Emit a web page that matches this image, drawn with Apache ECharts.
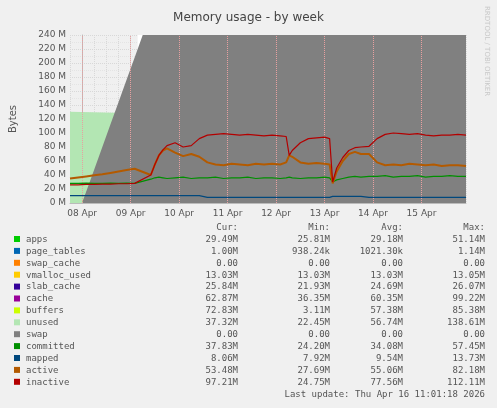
<!DOCTYPE html>
<html>
<head>
<meta charset="utf-8">
<script src="https://cdn.jsdelivr.net/npm/echarts@6/dist/echarts.min.js"></script>
<style>html,body{margin:0;padding:0;background:#f0f0f0;}#c{width:497px;height:408px;}</style>
</head>
<body>
<div id="c"></div>
<script>
// hours since 08 Apr 00:00
var times = [-6,-2,2,6,10,14,18,22,26,34,36,38,40,42,46,50,54,58,62,66,70,74,78,82,86,90,94,98,101,102.5,104,108,112,116,120,122.5,124,126,129,132,135,138,142,146,150,154,158,162,166,170,174,178,182,186,190];
var dayLabels = ['08 Apr','09 Apr','10 Apr','11 Apr','12 Apr','13 Apr','14 Apr','15 Apr'];
var gaps = [[27.5, 33.5], [114.8, 115.6]]; // no data

var apps = [26,26,26.5,26,26,26.5,26,26,26,29,29,28.5,29,29,29.5,29,28.5,29,29,29,28.5,29,29,29,28.5,29,29,29,29,29,29,29,28.5,29,29,29,29,29,29.5,30,30.5,30.5,31,31,31,30.5,31,31,31,30.5,31,31,31,30.5,30];
var pageTables = [1,1,1,1,1,1,1,1,1,1,1,1,1,1,1,1,1,1,1,1,1,1,1,1,1,1,1,1,1,1,1,1,1,1,1,1,1,1,1,1,1,1,1,1,1,1,1,1,1,1,1,1,1,1,1];
var swapCache = [0,0,0,0,0,0,0,0,0,0,0,0,0,0,0,0,0,0,0,0,0,0,0,0,0,0,0,0,0,0,0,0,0,0,0,0,0,0,0,0,0,0,0,0,0,0,0,0,0,0,0,0,0,0,0];
var vmalloc = [13,13,13,13,13,13,13,13,13,13,13,13,13,13,13,13,13,13,13,13,13,13,13,13,13,13,13,13,13,13,13,13,13,13,13,13,13,13,13,13,13,13,13,13,13,13,13,13,13,13,13,13,13,13,13];
var slab = [25,25,25,25,25,25,25,25,25,25,25,25,25,25,25,25,25,25,25,25,25,25,25,25,25,25,25,25,25,24,25,25,25,25,25,25,21,23,24,25,25,25,26,26,26,26,26,26,26,26,26,26,26,26,26];
var cache = [35,35.5,36,36.5,37,37.5,38,39,40,77,84,92,96,95,82,64,60,62,63,66,68,67,65,63,64,63,62,61,58,42,52,58,59,58,58,57,39,52,70,84,77,62,53,59,62,61,63,64,62,62,62,63,63,62,61];
var buffers = [9,10.5,12,13.5,15,16.5,18,19,20,3,13,25,34,40,54,72,76,74,73,70,68,69,71,73,72,73,74,75,74,70,80,77,76,77,77,78,0,5,22,48,60,75,81,75,72,73,71,70,72,72,72,71,71,72,73];
var unused = [133,131,129,127,125,123,121,119,117,94,77,57,44,39,38,38,38,38,38,38,38,38,38,38,38,38,38,38,42,62,42,39,39,39,39,39,139,117,82,42,37,37,37,37,37,37,37,37,37,37,37,37,37,37,37];
var swap = [0,0,0,0,0,0,0,0,0,0,0,0,0,0,0,0,0,0,0,0,0,0,0,0,0,0,0,0,0,0,0,0,0,0,0,0,0,0,0,0,0,0,0,0,0,0,0,0,0,0,0,0,0,0,0];
var committed = [28,28,28.5,28,28,28.5,28,28.5,28,34,36,37,36,35,36,37,35,36,36,37,35,36,36,37,35,36,36,35,36,37,36,35,36,36,37,36,30,33,35,37,38,37,38,38,39,37,38,38,39,37,38,38,39,38,38];
var mapped = [10.5,10.5,10.5,10.5,10.5,10.5,10.5,10.5,10.5,10.5,10.5,10.5,10.5,10.5,10.5,10.5,10.5,10.5,8,8,8,8,8,8,8,8,8,8,8,8,8,8,8,8,8,8,9.5,9.5,9.5,9.5,9.5,9.5,8,8,8,8,8,8,8,8,8,8,8,8,8];
var active = [35,36.5,38,39.5,41,43,45,47,49,40,55,68,75,78,72,67,70,66,58,55,54,56,55,54,56,55,56,55,58,68,66,58,56,57,56,55,28,45,60,70,73,70,70,58,54,55,54,56,55,54,55,53,54,54,53];
var inactive = [26,26,26.5,26.5,27,27,27.5,27.5,28,40,55,68,76,82,86,80,82,92,97,98,99,98,97,98,97,96,97,96,95,68,75,86,92,93,94,92,30,50,65,75,79,80,81,92,98,100,99,98,99,97,96,97,97,98,97];

var legendRows = [
  ['apps','#00cc00','29.49M','25.81M','29.18M','51.14M'],
  ['page_tables','#0066b3','1.00M','938.24k','1021.30k','1.14M'],
  ['swap_cache','#ff8000','0.00','0.00','0.00','0.00'],
  ['vmalloc_used','#ffcc00','13.03M','13.03M','13.03M','13.05M'],
  ['slab_cache','#330099','25.84M','21.93M','24.69M','26.07M'],
  ['cache','#990099','62.87M','36.35M','60.35M','99.22M'],
  ['buffers','#ccff00','72.83M','3.11M','57.38M','85.38M'],
  ['unused','#b3e6b3','37.32M','22.45M','56.74M','138.61M'],
  ['swap','#808080','0.00','0.00','0.00','0.00'],
  ['committed','#008f00','37.83M','24.20M','34.08M','57.45M'],
  ['mapped','#00487d','8.06M','7.92M','9.54M','13.73M'],
  ['active','#b35a00','53.48M','27.69M','55.06M','82.18M'],
  ['inactive','#b30000','97.21M','24.75M','77.56M','112.11M']
];

function pairs(arr) {
  return times.map(function (t, i) { return [t, arr[i]]; });
}

var stacked = [apps, pageTables, swapCache, vmalloc, slab, cache, buffers, unused, swap];
var lines = [committed, mapped, active, inactive];
var series = [];
stacked.forEach(function (arr, i) {
  series.push({
    name: legendRows[i][0], type: 'line', stack: 'mem', data: pairs(arr),
    symbol: 'none', lineStyle: { width: 0 },
    areaStyle: { color: legendRows[i][1], opacity: 1 }, z: 2
  });
});
lines.forEach(function (arr, i) {
  var row = legendRows[9 + i];
  series.push({
    name: row[0], type: 'line', data: pairs(arr), symbol: 'none',
    lineStyle: { color: row[1], width: i === 2 ? 2 : 1.2 }, z: 5
  });
});
// day boundary lines and no-data gaps
series.push({
  type: 'line', data: [], z: 10, silent: true,
  markLine: {
    silent: true, symbol: 'none', label: { show: false },
    lineStyle: { color: '#e8a0a0', type: 'dotted', width: 1 },
    data: [0, 24, 48, 72, 96, 120, 144, 168].map(function (v) { return { xAxis: v }; })
  },
  markArea: {
    silent: true, itemStyle: { color: '#ffffff', opacity: 1 },
    data: gaps.map(function (g) { return [{ xAxis: g[0] }, { xAxis: g[1] }]; })
  }
});

var graphics = [];
var font = '9px "DejaVu Sans Mono"';
var y0 = 223, dy = 11.9;
[['Cur:', 238], ['Min:', 330], ['Avg:', 403], ['Max:', 485]].forEach(function (h) {
  graphics.push({ type: 'text', right: 497 - h[1], top: y0, style: { text: h[0], font: font, fill: '#555' } });
});
legendRows.forEach(function (r, i) {
  var y = y0 + 12 + dy * i;
  graphics.push({ type: 'rect', shape: { x: 14, y: y + 1, width: 6, height: 6 }, style: { fill: r[1] } });
  graphics.push({ type: 'text', left: 26, top: y, style: { text: r[0], font: font, fill: '#555' } });
  [[r[2], 238], [r[3], 330], [r[4], 403], [r[5], 485]].forEach(function (c) {
    graphics.push({ type: 'text', right: 497 - c[1], top: y, style: { text: c[0], font: font, fill: '#555' } });
  });
});
graphics.push({ type: 'text', right: 12, top: 390, style: { text: 'Last update: Thu Apr 16 11:01:18 2026', font: font, fill: '#555' } });
graphics.push({ type: 'text', left: 483, top: 6, rotation: -Math.PI / 2, originX: 0, originY: 0,
  style: { text: 'RRDTOOL / TOBI OETIKER', font: '7px "DejaVu Sans"', fill: '#c8c8c8', x: 0, y: 0 } });

var chart = echarts.init(document.getElementById('c'));
chart.setOption({
  backgroundColor: '#f0f0f0',
  animation: false,
  title: { text: 'Memory usage - by week', left: 'center', top: 7,
    textStyle: { fontFamily: 'DejaVu Sans', fontSize: 12, fontWeight: 'normal', color: '#444' } },
  grid: { left: 67, right: 31, top: 35, bottom: 205 },
  xAxis: {
    type: 'value', min: -6, max: 190, interval: 6,
    axisLine: { lineStyle: { color: '#bbb' } },
    axisTick: { show: false },
    axisLabel: {
      customValues: [0, 24, 48, 72, 96, 120, 144, 168],
      formatter: function (v) { return dayLabels[Math.round(v / 24)]; },
      fontFamily: 'DejaVu Sans', fontSize: 9, color: '#555', margin: 6
    },
    splitLine: { show: true, lineStyle: { color: '#d8d8d8', type: 'dotted' } }
  },
  yAxis: {
    type: 'value', min: 0, max: 240, interval: 20,
    name: 'Bytes', nameLocation: 'middle', nameGap: 52, nameRotate: 90,
    nameTextStyle: { fontFamily: 'DejaVu Sans', fontSize: 10, color: '#555' },
    axisLine: { show: true, lineStyle: { color: '#bbb' } },
    axisTick: { show: false },
    axisLabel: { formatter: function (v) { return v + ' M'; }, fontFamily: 'DejaVu Sans', fontSize: 9, color: '#555', margin: 4 },
    splitLine: { lineStyle: { color: '#d8d8d8', type: 'dotted' } },
    minorTick: { show: true, splitNumber: 2, length: 0 },
    minorSplitLine: { show: true, lineStyle: { color: '#e4e4e4', type: 'dotted' } }
  },
  graphic: graphics,
  series: series
});
</script>
</body>
</html>
